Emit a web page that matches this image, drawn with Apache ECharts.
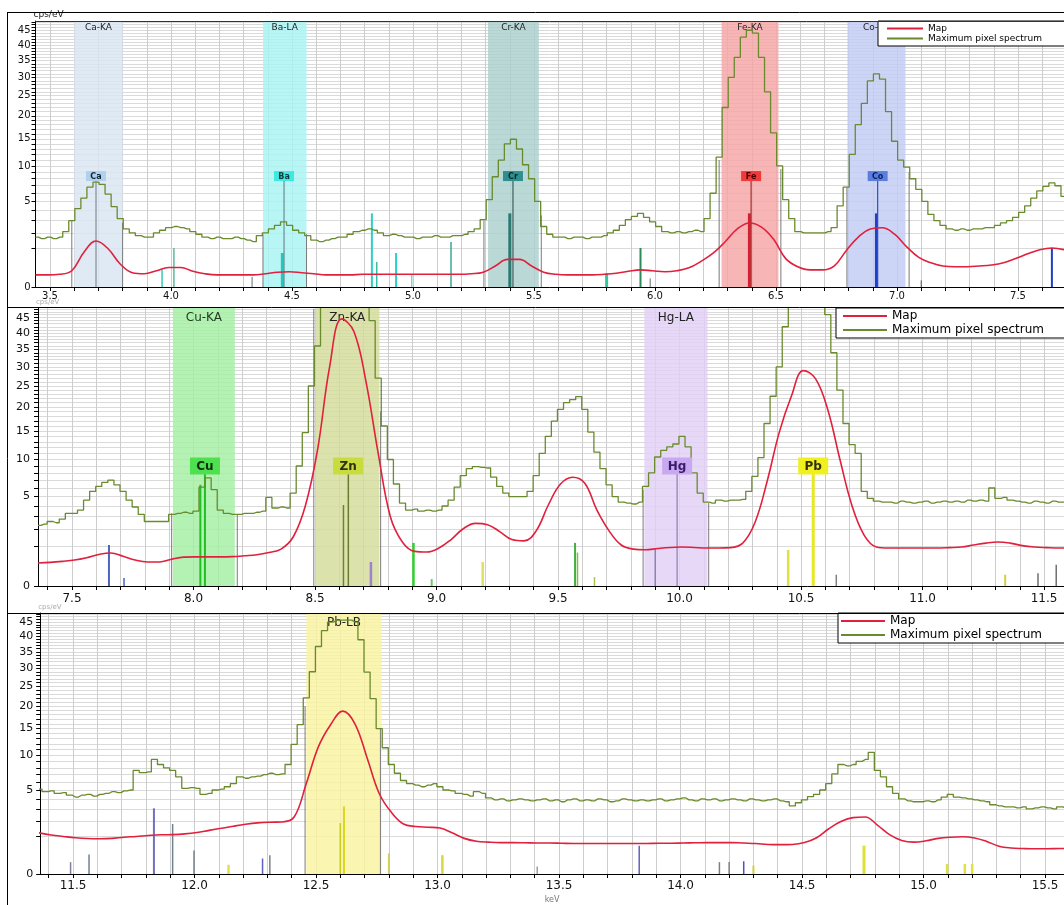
<!DOCTYPE html>
<html><head><meta charset="utf-8">
<script src="https://cdn.jsdelivr.net/npm/echarts@6/dist/echarts.min.js"></script>
<style>html,body{margin:0;padding:0;background:#fff}#c{width:1064px;height:905px}</style>
</head><body><div id="c"></div>
<script>
// ---------- tick labels ----------
const X1_LABELS = [3.5,4.0,4.5,5.0,5.5,6.0,6.5,7.0,7.5];
const X2_LABELS = [7.5,8.0,8.5,9.0,9.5,10.0,10.5,11.0,11.5];
const X3_LABELS = [11.5,12.0,12.5,13.0,13.5,14.0,14.5,15.0,15.5];
const Y_LABELS = [0,5,10,15,20,25,30,35,40,45];
const Y_MINOR = [0,1,2,3,4,5,6,7,8,9,10,11,12,13,14,15,16,17,18,19,20,21,22,23,24,25,26,27,28,29,30,31,32,33,34,35,36,37,38,39,40,41,42,43,44,45,46,47,48];

// ---------- spectra (cps/eV) ----------
// Panel 1: Map, start 3.44 keV, step 0.05
const MAP1 = [
0.10,0.10,0.11,0.18,0.82,1.44,1.00,0.36,0.14,0.12,
0.18,0.26,0.26,0.17,0.12,0.10,0.10,0.10,0.10,0.12,
0.15,0.16,0.14,0.12,0.10,0.10,0.10,0.11,0.11,0.11,
0.11,0.11,0.11,0.11,0.11,0.11,0.12,0.15,0.30,0.52,
0.52,0.30,0.15,0.11,0.10,0.10,0.10,0.11,0.13,0.17,
0.20,0.18,0.16,0.18,0.25,0.45,0.78,1.40,2.30,2.80,
2.45,1.55,0.55,0.28,0.20,0.20,0.30,0.90,1.70,2.30,
2.40,1.90,1.10,0.60,0.40,0.30,0.28,0.28,0.30,0.33,
0.40,0.55,0.75,0.95,1.04,0.95,0.75,0.60];
// Panel 1: Maximum pixel spectrum, start 3.44 keV, step 0.025
const MAX1 = [
1.7,1.6,1.7,1.6,1.7,2.1,3.0,4.2,5.4,6.8,
7.5,7.2,5.9,4.4,3.2,2.3,2.0,1.8,1.7,1.7,
2.0,2.2,2.4,2.5,2.4,2.3,2.1,1.9,1.7,1.6,
1.7,1.6,1.6,1.7,1.6,1.5,1.4,1.8,2.0,2.3,
2.6,2.9,2.6,2.2,2.0,1.8,1.5,1.4,1.5,1.6,
1.7,1.7,1.9,2.1,2.2,2.3,2.2,2.0,1.8,1.9,
1.8,1.7,1.7,1.6,1.7,1.7,1.8,1.7,1.7,1.8,
1.8,1.9,2.1,2.3,3.1,5.2,8.3,11.0,14.0,14.9,
13.0,10.2,8.0,5.0,2.5,1.9,1.7,1.7,1.6,1.7,
1.7,1.6,1.7,1.7,1.8,2.0,2.2,2.6,3.1,3.4,
3.7,3.3,2.9,2.5,2.1,2.0,2.1,2.0,2.1,2.2,
2.1,3.2,6.0,11.5,22.0,30.0,36.0,42.6,45.0,44.0,
36.0,26.0,16.2,10.0,5.2,3.2,2.1,2.0,2.0,2.0,
2.0,2.1,2.4,4.5,6.8,12.0,18.0,23.0,29.0,31.0,
29.5,21.0,14.5,11.0,9.8,8.0,6.5,5.0,3.6,3.0,
2.6,2.3,2.2,2.3,2.2,2.3,2.3,2.4,2.4,2.6,
2.8,3.0,3.3,3.8,4.5,5.4,6.3,6.9,7.4,7.0,
5.6,4.8,4.2,3.5];
// Panel 2: Map, start 7.36 keV, step 0.05
const MAP2 = [
0.33,0.35,0.38,0.42,0.50,0.62,0.68,0.55,0.42,0.36,
0.36,0.45,0.52,0.53,0.53,0.53,0.54,0.57,0.61,0.70,
0.85,1.50,4.0,11.5,30.0,44.6,40.5,26.0,11.0,3.0,
1.20,0.75,0.72,0.90,1.35,2.05,2.45,2.35,1.85,1.35,
1.27,1.90,4.1,6.5,7.4,6.6,3.6,1.9,1.05,0.85,
0.82,0.88,0.93,0.95,0.93,0.90,0.90,0.92,1.15,2.5,
6.8,14.7,22.5,29.0,26.8,19.4,10.0,4.0,1.6,0.95,
0.90,0.90,0.90,0.90,0.90,0.92,0.95,1.05,1.15,1.21,
1.15,1.02,0.95,0.92,0.90,0.90,0.92,0.95];
// Panel 2: Maximum pixel spectrum, start 7.36 keV, step 0.025
const MAX2 = [
2.3,2.4,2.6,2.5,2.8,3.3,3.3,3.6,4.6,5.6,
6.2,6.7,7.0,6.4,5.6,4.6,3.9,3.2,2.6,2.6,
2.6,2.6,3.2,3.3,3.4,3.3,3.5,6.1,7.3,5.8,
3.6,3.3,3.2,3.2,3.3,3.3,3.4,3.5,4.9,3.8,
3.9,3.8,5.4,9.0,14.7,25.0,36.0,50.0,62.0,72.0,
78,80,76,68,58,44,27,16,10,6.5,
4.3,3.6,3.7,3.5,3.6,3.5,3.6,4.0,4.6,6.1,
7.6,8.6,8.9,8.8,8.7,7.4,6.2,5.4,5.0,5.0,
5.0,5.6,7.6,11.0,14.0,17.0,19.5,21.0,21.7,22.4,
19.5,14.8,11.2,8.6,6.4,5.0,4.4,4.3,4.2,4.4,
6.2,8.0,10.4,11.5,12.1,12.6,14.0,12.1,8.0,5.4,
4.4,4.3,4.6,4.5,4.6,4.6,4.7,5.6,7.5,10.3,
16.5,22.5,30.0,42.0,55.0,66.0,74.0,78.0,76.0,62.0,
46.0,34.0,24.0,16.5,12.5,11.0,5.6,4.8,4.5,4.4,
4.4,4.3,4.5,4.4,4.3,4.4,4.5,4.3,4.4,4.5,
4.4,4.5,4.4,4.6,4.5,4.6,4.5,6.0,4.8,4.9,
4.6,4.5,4.4,4.3,4.5,4.4,4.3,4.5,4.4,4.4,
4.5,4.4,4.5,4.4,4.5];
// Panel 3: Map, start 11.36 keV, step 0.05
const MAP3 = [
1.2,1.08,1.0,0.93,0.89,0.88,0.9,0.96,1.0,1.05,
1.09,1.1,1.14,1.22,1.35,1.48,1.62,1.75,1.85,1.9,
1.92,2.3,5.8,11.5,15.8,18.8,16.0,9.6,4.6,2.7,
1.77,1.6,1.55,1.5,1.2,0.9,0.76,0.72,0.7,0.7,
0.69,0.68,0.68,0.67,0.66,0.66,0.66,0.66,0.66,0.66,
0.66,0.67,0.67,0.68,0.69,0.70,0.70,0.70,0.68,0.66,
0.62,0.61,0.62,0.70,0.93,1.45,1.95,2.25,2.30,1.70,
1.1,0.8,0.72,0.78,0.9,0.96,0.98,0.92,0.75,0.55,
0.48,0.46,0.45,0.45,0.46,0.46,0.46,0.46];
// Panel 3: Maximum pixel spectrum, start 11.36 keV, step 0.025
const MAX3 = [
5.1,4.8,4.9,4.6,4.7,4.4,4.2,4.4,4.5,4.3,
4.5,4.6,4.8,4.7,4.9,5.0,7.6,7.3,7.4,9.3,
8.5,8.0,7.6,6.7,5.2,5.3,5.2,4.5,4.6,5.0,
5.1,5.4,5.8,6.7,6.5,6.7,6.8,7.0,7.2,7.0,
7.1,8.5,11.9,15.8,22.0,29.0,36.7,42.0,45.0,45.7,
45.7,45.7,45.0,38.9,28.9,21.8,15.0,11.3,8.5,7.2,
6.2,5.8,5.6,5.4,5.6,5.8,5.4,5.0,4.9,4.6,
4.5,4.3,4.8,4.6,4.1,3.9,4.0,3.8,3.9,4.0,
3.9,3.8,3.9,4.0,3.8,3.9,3.7,3.9,4.0,3.8,
3.9,3.8,4.0,3.9,3.7,3.8,4.0,3.9,3.8,3.9,
3.8,3.9,4.0,3.8,3.9,4.0,4.1,3.9,3.8,4.0,
3.9,4.0,3.8,3.9,4.0,3.9,3.8,4.0,3.9,3.8,
3.9,4.0,3.8,3.7,3.3,3.6,3.9,4.25,4.5,5.0,
5.8,7.1,8.5,8.3,8.5,9.0,9.3,10.5,7.6,6.7,
5.4,4.6,4.0,3.8,3.7,3.7,3.8,3.7,3.9,4.2,
4.5,4.2,4.1,4.0,3.9,3.8,3.7,3.4,3.3,3.2,
3.2,3.1,3.2,3.0,3.1,3.2,3.1,3.0,3.2,3.1,
3.1,3.0,3.1,3.2,3.1];

// ---------- element ROI bands: [label, from keV, to keV, fill, text] ----------
const BANDS1 = [['Ca-KA',3.60,3.80,'#d9e5f2','#222'],['Ba-LA',4.38,4.56,'#a8f3f3','#222'],['Cr-KA',5.31,5.52,'#a9cfcd','#222'],['Fe-KA',6.275,6.51,'#f6a5a5','#222'],['Co-KA',6.795,7.035,'#c2ccf5','#222']];
const BANDS2 = [['Cu-KA',7.915,8.17,'#a4efa4','#1b3a1b'],['Zn-KA',8.50,8.765,'#d3dc98','#222'],['Hg-LA',9.855,10.115,'#e0d0f4','#222']];
const BANDS3 = [['Pb-LB',12.46,12.77,'#f9f3a0','#222']];
// ROI edge lines: [keV, cps/eV]
const EDGES1 = [[3.59,3.0],[3.80,2.8],[4.38,1.9],[4.56,1.9],[5.293,3.0],[5.53,3.5],[6.265,11],[6.52,9.5],[6.793,6.8],[7.05,9.0]];
const EDGES2 = [[7.91,3.3],[8.18,3.2],[8.495,48],[8.77,19],[9.85,5.8],[10.12,4.3]];
const EDGES3 = [[12.455,20],[12.765,15]];
// element marker lines: [keV, cps/eV, colour, width]
const LINES1 = [[3.69,8.4,'#7f8c99',1.2],[3.963,0.2,'#3cc8b4',1.5],[4.012,1.04,'#5cb8a0',1.5],[4.335,0.07,'#607080',1],[4.46,0.79,'#22c8c0',3],[4.467,8.4,'#6c8c90',1.2],[4.83,3.7,'#2ad0c8',2],[4.85,0.43,'#30c0a8',1.5],[4.93,0.79,'#2ad0c8',2],[4.995,0.1,'#40c0c0',1],[5.157,1.38,'#3aa898',1.5],[5.40,3.7,'#2a7a72',3],[5.413,8.4,'#3f5f5f',1.2],[5.80,0.13,'#30c8a0',3],[5.94,1.04,'#2a8a5a',2],[5.98,0.05,'#607070',1],[6.39,3.7,'#d42030',3],[6.397,8.4,'#a03030',1.2],[6.915,3.7,'#2040c8',3],[6.92,8.4,'#3050b0',1.2],[7.10,0.03,'#505050',1],[7.64,1.04,'#2040c8',2]];
const LINES2 = [[7.652,1.05,'#4a64c0',2],[7.714,0.04,'#4a64c0',1.5],[8.028,6.4,'#22c022',2],[8.047,9.0,'#22c022',2],[8.617,4.1,'#70803a',1.5],[8.637,9.0,'#6a7a30',1.5],[8.73,0.36,'#a080d0',2.5],[8.905,1.16,'#30d030',2.5],[8.98,0.03,'#60d060',2],[9.19,0.36,'#e0e060',2.5],[9.57,1.16,'#40b040',2],[9.58,0.7,'#80c040',1.5],[9.65,0.05,'#b0c050',1.5],[9.90,0.9,'#9080b0',1.5],[9.99,9.0,'#a090c0',1.5],[10.447,0.81,'#e0e040',2.5],[10.55,9.0,'#e8e820',3],[10.645,0.08,'#808080',1.5],[11.34,0.08,'#d0d040',2],[11.475,0.1,'#707070',1.5],[11.55,0.28,'#707070',1.5]];
const LINES3 = [[11.49,0.1,'#8080a0',1.5],[11.566,0.27,'#708090',1.5],[11.833,3.06,'#7070c0',2],[11.91,1.77,'#708090',1.5],[11.998,0.39,'#708090',1.5],[12.14,0.06,'#e0e050',2.5],[12.28,0.17,'#6060c0',1.5],[12.31,0.25,'#808080',1.5],[12.60,1.84,'#c8c820',1.5],[12.615,3.25,'#d8d820',2],[12.80,0.3,'#d0d060',2],[13.02,0.25,'#d8d840',2.5],[13.41,0.04,'#707070',1],[13.83,0.57,'#6060c0',1.5],[14.16,0.1,'#808080',1.5],[14.20,0.1,'#808080',1.5],[14.26,0.115,'#5050c0',1.5],[14.30,0.05,'#d0d040',2],[14.755,0.57,'#e0e030',3],[15.097,0.07,'#e0e040',2.5],[15.17,0.07,'#e0e040',2.5],[15.20,0.07,'#e0e040',2.5]];
// element label boxes: [text, keV, cps/eV, fill, text colour]
const BOXES1 = [['Ca',3.69,8.4,'#b0d0ee','#123'],['Ba',4.467,8.4,'#3fe8e0','#0a3a3a'],['Cr',5.413,8.4,'#2f8f8f','#0a2a2a'],['Fe',6.397,8.4,'#f03a3a','#400'],['Co',6.92,8.4,'#5a7ee0','#102060']];
const BOXES2 = [['Cu',8.047,9.0,'#4ee04e','#0a300a'],['Zn',8.636,9.0,'#c8dc40','#303010'],['Hg',9.99,9.0,'#c8a8f0','#3a1a6a'],['Pb',10.55,9.0,'#f0f020','#303000']];
const BOXES3 = [];

// ---------- layout ----------
const FONT = '"DejaVu Sans", Verdana, sans-serif';
const S = v => Math.sqrt(Math.max(0, v));
const YMAX = Math.sqrt(48.3);
const RED = '#e0203c', OLIVE = '#6a8a2e';

const PANELS = [
 {grid:{left:35.5,top:21,right:0,height:266}, xMin:3.44, xMax:7.69, xLabels:X1_LABELS,
  map:MAP1, mapStart:3.44, max:MAX1, maxStart:3.44, bands:BANDS1, edges:EDGES1, lines:LINES1, boxes:BOXES1,
  fs:{x:10,y:10,band:9,box:8,legend:9}, box:[20,10], xMargin:4, yMargin:5, bandDy:7,
  legend:{left:878,top:21,itemWidth:36,padding:[3,170,3,9],itemGap:1},
  yName:{color:'#222',size:9}},
 {grid:{left:38,top:308,right:0,height:278}, xMin:7.36, xMax:11.582, xLabels:X2_LABELS,
  map:MAP2, mapStart:7.36, max:MAX2, maxStart:7.36, bands:BANDS2, edges:EDGES2, lines:LINES2, boxes:BOXES2,
  fs:{x:12,y:11,band:12,box:12,legend:12}, box:[30,17], xMargin:7, yMargin:8, bandDy:10,
  legend:{left:836,top:308,itemWidth:44,padding:[2,170,2,7],itemGap:2},
  yName:{color:'#aaa',size:7}},
 {grid:{left:40.2,top:613,right:0,height:266}, xMin:11.365, xMax:15.578, xLabels:X3_LABELS,
  map:MAP3, mapStart:11.36, max:MAX3, maxStart:11.36, bands:BANDS3, edges:EDGES3, lines:LINES3, boxes:BOXES3,
  fs:{x:12,y:11,band:12,box:12,legend:12}, box:[30,17], xMargin:6, yMargin:7, bandDy:10,
  legend:{left:838,top:613,itemWidth:44,padding:[2,170,2,3],itemGap:2},
  yName:{color:'#aaa',size:7}, xName:'keV'}
];

function toPairs(start, step, vals) {
  return vals.map((v, i) => [Math.round((start + i * step) * 1000) / 1000, S(v)]);
}
function tenths(a, b) {
  const out = [];
  for (let k = Math.ceil(a * 10 - 1e-6); k <= Math.floor(b * 10 + 1e-6); k++) out.push(k / 10);
  return out;
}

const grids = [], xAxes = [], yAxes = [], series = [], legends = [];
PANELS.forEach((p, gi) => {
  grids.push(Object.assign({show:false}, p.grid));
  xAxes.push({
    gridIndex:gi, type:'value', min:p.xMin, max:p.xMax,
    axisLine:{onZero:false, lineStyle:{color:'#000', width:1}},
    axisTick:{show:true, customValues:tenths(p.xMin, p.xMax), length:4, lineStyle:{color:'#000'}},
    axisLabel:{customValues:p.xLabels, formatter:v => v.toFixed(1), fontSize:p.fs.x, fontFamily:FONT, color:'#111', margin:p.xMargin},
    splitLine:{show:true, lineStyle:{color:'#cdcdcd', width:1}},
    name:p.xName || '', nameLocation:'middle', nameGap:22, nameTextStyle:{fontSize:8, color:'#777', fontFamily:FONT}
  });
  yAxes.push({
    gridIndex:gi, type:'value', min:0, max:YMAX,
    axisLine:{show:true, onZero:false, lineStyle:{color:'#000', width:1}},
    axisTick:{show:true, customValues:Y_MINOR.map(S), length:4, lineStyle:{color:'#000'}},
    axisLabel:{customValues:Y_LABELS.map(S), formatter:v => String(Math.round(v * v)), fontSize:p.fs.y, fontFamily:FONT, color:'#111', margin:p.yMargin},
    splitLine:{show:true, lineStyle:{color:'#dadada', width:1}},
    name:'cps/eV', nameLocation:'end', nameGap:2,
    nameTextStyle:{fontSize:p.yName.size, color:p.yName.color, fontFamily:FONT, align:'left', padding:[0,0,0,-2]}
  });

  // ROI bands
  series.push({
    type:'custom', xAxisIndex:gi, yAxisIndex:gi, z:1, silent:true,
    data:p.bands.map((b, i) => [b[1], 0, b[2], i]), encode:{x:[0,2], y:1},
    renderItem(params, api) {
      const b = p.bands[api.value(3)];
      const a = api.coord([api.value(0), 0]), c = api.coord([api.value(2), 0]);
      const cs = params.coordSys;
      return {type:'group', children:[
        {type:'rect', shape:{x:a[0], y:cs.y, width:c[0] - a[0], height:cs.height}, style:{fill:b[3], opacity:0.82}},
        {type:'text', style:{text:b[0], x:(a[0] + c[0]) / 2, y:cs.y + p.bandDy, align:'center', verticalAlign:'middle',
          font:p.fs.band + 'px ' + FONT, fill:b[4]}}
      ]};
    }
  });
  // ROI edge lines
  series.push({
    type:'custom', xAxisIndex:gi, yAxisIndex:gi, z:3, silent:true, clip:true,
    data:p.edges.map(e => [e[0], S(e[1])]), encode:{x:0, y:1},
    renderItem(params, api) {
      const a = api.coord([api.value(0), 0]), c = api.coord([api.value(0), api.value(1)]);
      return {type:'line', shape:{x1:a[0], y1:a[1], x2:c[0], y2:c[1]}, style:{stroke:'#7a7a7a', lineWidth:1}};
    }
  });
  // element marker lines
  series.push({
    type:'custom', xAxisIndex:gi, yAxisIndex:gi, z:3, silent:true,
    data:p.lines.map((l, i) => [l[0], S(l[1]), i]), encode:{x:0, y:1},
    renderItem(params, api) {
      const l = p.lines[api.value(2)];
      const a = api.coord([api.value(0), 0]), c = api.coord([api.value(0), api.value(1)]);
      return {type:'line', shape:{x1:a[0], y1:a[1], x2:c[0], y2:c[1]}, style:{stroke:l[2], lineWidth:l[3]}};
    }
  });
  // spectra
  series.push({
    name:'Maximum pixel spectrum', type:'line', xAxisIndex:gi, yAxisIndex:gi, z:4,
    data:toPairs(p.maxStart, 0.025, p.max), step:'middle', showSymbol:false, symbol:'none',
    color:OLIVE, lineStyle:{color:OLIVE, width:1.3}, silent:true
  });
  series.push({
    name:'Map', type:'line', xAxisIndex:gi, yAxisIndex:gi, z:5,
    data:toPairs(p.mapStart, 0.05, p.map), smooth:0.4, showSymbol:false, symbol:'none',
    color:RED, lineStyle:{color:RED, width:1.6}, silent:true
  });
  // element label boxes
  if (p.boxes.length) series.push({
    type:'custom', xAxisIndex:gi, yAxisIndex:gi, z:6, silent:true,
    data:p.boxes.map((b, i) => [b[1], S(b[2]), i]), encode:{x:0, y:1},
    renderItem(params, api) {
      const b = p.boxes[api.value(2)];
      const c = api.coord([api.value(0), api.value(1)]);
      const w = p.box[0], h = p.box[1];
      return {type:'group', children:[
        {type:'rect', shape:{x:c[0] - w / 2, y:c[1] - h / 2, width:w, height:h}, style:{fill:b[3]}},
        {type:'text', style:{text:b[0], x:c[0], y:c[1] + 0.5, align:'center', verticalAlign:'middle',
          font:'bold ' + p.fs.box + 'px ' + FONT, fill:b[4]}}
      ]};
    }
  });
  legends.push({
    data:['Map','Maximum pixel spectrum'], orient:'vertical', left:p.legend.left, top:p.legend.top,
    icon:'rect', itemWidth:p.legend.itemWidth, itemHeight:2, itemGap:p.legend.itemGap,
    padding:p.legend.padding, backgroundColor:'#fff', borderColor:'#000', borderWidth:1,
    textStyle:{fontSize:p.fs.legend, fontFamily:FONT, color:'#000'}, selectedMode:false, z:10
  });
});

const chart = echarts.init(document.getElementById('c'), null, {renderer:'canvas'});
chart.setOption({
  animation:false,
  backgroundColor:'#fff',
  grid:grids, xAxis:xAxes, yAxis:yAxes, series:series, legend:legends,
  graphic:[
    {type:'line', z:100, shape:{x1:7, y1:12.5, x2:1064, y2:12.5}, style:{stroke:'#000', lineWidth:1}},
    {type:'line', z:100, shape:{x1:35, y1:21.5, x2:1064, y2:21.5}, style:{stroke:'#333', lineWidth:1}},
    {type:'line', z:100, shape:{x1:7, y1:307.5, x2:1064, y2:307.5}, style:{stroke:'#000', lineWidth:1}},
    {type:'line', z:100, shape:{x1:7, y1:613.5, x2:1064, y2:613.5}, style:{stroke:'#000', lineWidth:1}},
    {type:'line', z:100, shape:{x1:7.5, y1:12, x2:7.5, y2:905}, style:{stroke:'#000', lineWidth:1}}
  ]
});
</script></body></html>
